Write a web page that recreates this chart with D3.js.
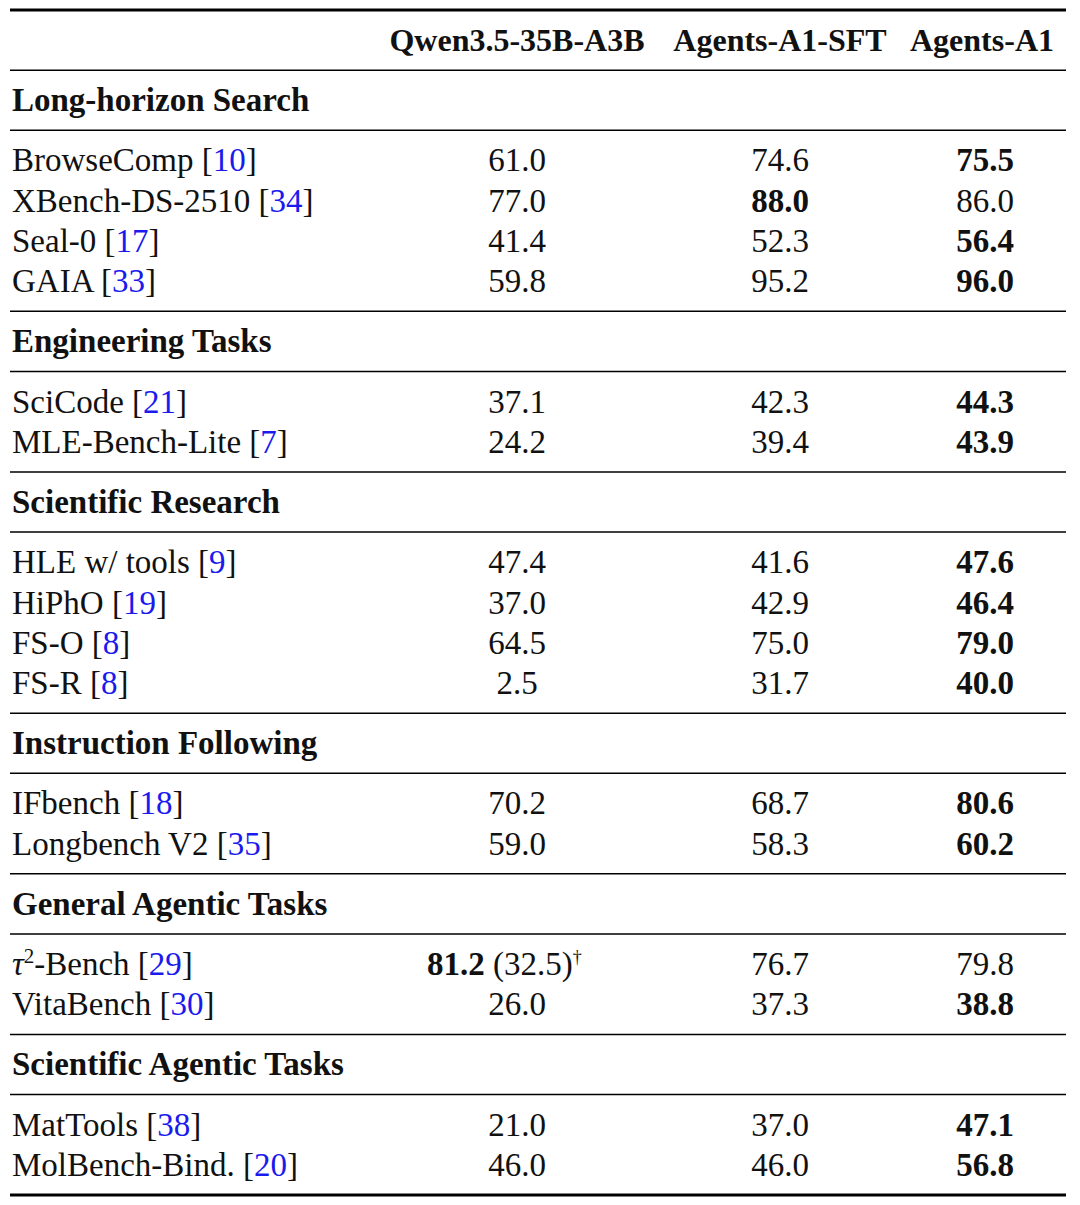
<!DOCTYPE html>
<html><head><meta charset="utf-8">
<style>body{margin:0;background:#fff}</style>
</head><body>
<svg width="1080" height="1205"></svg>
<script src="https://cdn.jsdelivr.net/npm/d3@7"></script>
<script>
var models = ["Qwen3.5-35B-A3B", "Agents-A1-SFT", "Agents-A1"];
var sections = ["Long-horizon Search", "Engineering Tasks", "Scientific Research",
  "Instruction Following", "General Agentic Tasks", "Scientific Agentic Tasks"];
// [section index, name, citation]
var benchmarks = [
  [0, "BrowseComp", "10"], [0, "XBench-DS-2510", "34"], [0, "Seal-0", "17"], [0, "GAIA", "33"],
  [1, "SciCode", "21"], [1, "MLE-Bench-Lite", "7"],
  [2, "HLE w/ tools", "9"], [2, "HiPhO", "19"], [2, "FS-O", "8"], [2, "FS-R", "8"],
  [3, "IFbench", "18"], [3, "Longbench V2", "35"],
  [4, "τ2-Bench", "29"], [4, "VitaBench", "30"],
  [5, "MatTools", "38"], [5, "MolBench-Bind.", "20"]
];
var qwen = [61.0, 77.0, 41.4, 59.8, 37.1, 24.2, 47.4, 37.0, 64.5, 2.5, 70.2, 59.0, 81.2, 26.0, 21.0, 46.0];
var sft  = [74.6, 88.0, 52.3, 95.2, 42.3, 39.4, 41.6, 42.9, 75.0, 31.7, 68.7, 58.3, 76.7, 37.3, 37.0, 46.0];
var a1   = [75.5, 86.0, 56.4, 96.0, 44.3, 43.9, 47.6, 46.4, 79.0, 40.0, 80.6, 60.2, 79.8, 38.8, 47.1, 56.8];

var svg = d3.select("svg");
var font = "'Liberation Serif', 'DejaVu Serif', serif";
var left = 10, right = 1066;
var cols = [qwen, sft, a1];

// build row layout
var rows = [], y = 70, lines = [{y: 10, w: 3}, {y: 70, w: 1.5}];
sections.forEach(function(s, si) {
  rows.push({type: "sec", text: s, y: y + 30});
  y += 60; lines.push({y: y, w: 1.5});
  var first = true;
  benchmarks.forEach(function(b, i) {
    if (b[0] !== si) return;
    y += first ? 30 : 40.2;
    first = false;
    rows.push({type: "row", b: b, i: i, y: y});
  });
  y += 30;
  lines.push({y: y, w: si === sections.length - 1 ? 3 : 1.5});
});
var ys = d3.scaleLinear().domain([10, y]).range([10, 1195]);

svg.selectAll("line.rule").data(lines).enter().append("line")
  .attr("x1", left).attr("x2", right)
  .attr("y1", function(d) { return ys(d.y); }).attr("y2", function(d) { return ys(d.y); })
  .attr("stroke", "#000").attr("stroke-width", function(d) { return d.w; });

var t = svg.append("g").attr("font-family", font).attr("font-size", 33).attr("fill", "#111");

var hx = [517, 780, 982];
models.forEach(function(m, j) {
  t.append("text").attr("x", hx[j]).attr("y", ys(40) + 11).attr("text-anchor", "middle")
    .attr("font-weight", "bold").attr("font-size", 32).text(m);
});
var cx = [517, 780, 985];

rows.forEach(function(r) {
  var yy = ys(r.y) + 11;
  if (r.type === "sec") {
    t.append("text").attr("x", 12).attr("y", yy).attr("font-weight", "bold").text(r.text);
    return;
  }
  var tx = t.append("text").attr("x", 12).attr("y", yy);
  if (r.b[1] === "τ2-Bench") {
    tx.append("tspan").attr("font-style", "italic").text("τ");
    tx.append("tspan").attr("dy", -12).attr("font-size", 21).text("2");
    tx.append("tspan").attr("dy", 12).text("-Bench ");
  } else {
    tx.append("tspan").text(r.b[1] + " ");
  }
  tx.append("tspan").text("[");
  tx.append("tspan").attr("fill", "#1a1aee").text(r.b[2]);
  tx.append("tspan").text("]");

  var vals = cols.map(function(c) { return c[r.i]; });
  var best = d3.max(vals);
  vals.forEach(function(v, j) {
    var el = t.append("text").attr("x", cx[j]).attr("y", yy).attr("text-anchor", "middle");
    if (r.b[1] === "τ2-Bench" && j === 0) {
      el.attr("x", 427).attr("text-anchor", "start");
      el.append("tspan").attr("font-weight", "bold").text(v.toFixed(1));
      el.append("tspan").text(" (32.5)");
      el.append("tspan").attr("dy", -12).attr("font-size", 18).text("†");
      return;
    }
    el.attr("font-weight", v === best ? "bold" : null).text(v.toFixed(1));
  });
});
</script>
</body></html>
